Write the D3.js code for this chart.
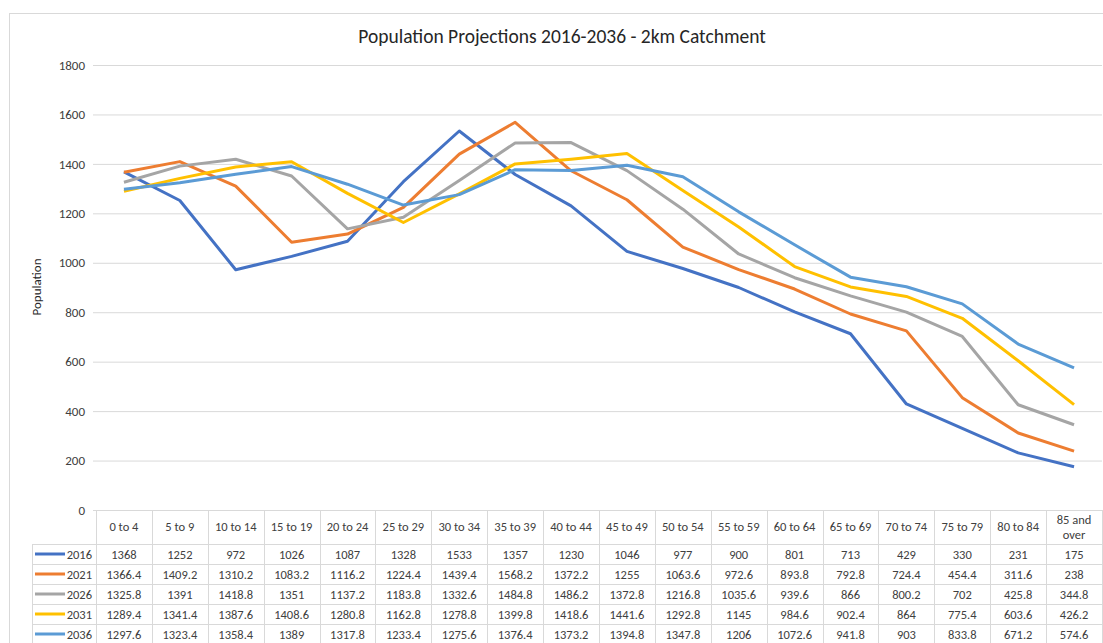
<!DOCTYPE html>
<html>
<head>
<meta charset="utf-8">
<script src="https://cdn.jsdelivr.net/npm/d3@7"></script>
<style>
  body { margin: 0; background: #fff; }
  svg { display: block; font-family: Carlito, Calibri, Lato, "Open Sans", sans-serif; }
</style>
</head>
<body>
<div id="chart"></div>
<script>
const ageGroups = ["0 to 4", "5 to 9", "10 to 14", "15 to 19", "20 to 24", "25 to 29", "30 to 34", "35 to 39",
	"40 to 44", "45 to 49", "50 to 54", "55 to 59", "60 to 64", "65 to 69", "70 to 74", "75 to 79", "80 to 84", "85 and over"];
const years = ["2016", "2021", "2026", "2031", "2036"];
const pop2016 = [1368, 1252, 972, 1026, 1087, 1328, 1533, 1357, 1230, 1046, 977, 900, 801, 713, 429, 330, 231, 175];
const pop2021 = [1366.4, 1409.2, 1310.2, 1083.2, 1116.2, 1224.4, 1439.4, 1568.2, 1372.2, 1255, 1063.6, 972.6, 893.8, 792.8, 724.4, 454.4, 311.6, 238];
const pop2026 = [1325.8, 1391, 1418.8, 1351, 1137.2, 1183.8, 1332.6, 1484.8, 1486.2, 1372.8, 1216.8, 1035.6, 939.6, 866, 800.2, 702, 425.8, 344.8];
const pop2031 = [1289.4, 1341.4, 1387.6, 1408.6, 1280.8, 1162.8, 1278.8, 1399.8, 1418.6, 1441.6, 1292.8, 1145, 984.6, 902.4, 864, 775.4, 603.6, 426.2];
const pop2036 = [1297.6, 1323.4, 1358.4, 1389, 1317.8, 1233.4, 1275.6, 1376.4, 1373.2, 1394.8, 1347.8, 1206, 1072.6, 941.8, 903, 833.8, 671.2, 574.6];
const yTicks = [0, 200, 400, 600, 800, 1000, 1200, 1400, 1600, 1800];
const colors = ["#4472C4", "#ED7D31", "#A5A5A5", "#FFC000", "#5B9BD5"];

const series = years.map((y, i) => ({ year: y, values: [pop2016, pop2021, pop2026, pop2031, pop2036][i], color: colors[i] }));

const width = 1103, height = 643;
const plot = { left: 96, right: 1102, top: 65, bottom: 510 };
const rowH = 20, headerH = 34;

const svg = d3.select("#chart").append("svg")
	.attr("width", width)
	.attr("height", height);

// chart frame
svg.append("rect")
	.attr("x", 9.5).attr("y", 13.5)
	.attr("width", 1110).attr("height", 700)
	.attr("fill", "#fff")
	.attr("stroke", "#d9d9d9");

// title
svg.append("text")
	.attr("x", 562).attr("y", 43)
	.attr("text-anchor", "middle")
	.attr("font-size", "19.5px")
	.attr("fill", "#262626")
	.text("Population Projections 2016-2036 - 2km Catchment");

const x = d3.scaleBand()
	.domain(ageGroups)
	.range([plot.left, plot.right]);

const y = d3.scaleLinear()
	.domain([0, 1800])
	.range([plot.bottom, plot.top]);

// y axis + gridlines
const yAxis = svg.append("g")
	.attr("transform", `translate(${plot.left}, 0)`)
	.call(d3.axisLeft(y).tickValues(yTicks).tickFormat(d3.format("d"))
		.tickSize(-(plot.right - plot.left)).tickPadding(11));
yAxis.select(".domain").remove();
yAxis.selectAll("line").attr("stroke", "#d9d9d9").attr("x1", -3);
yAxis.selectAll("text")
	.attr("fill", "#404040")
	.attr("font-size", "13px")
	.attr("font-family", "Carlito, Calibri, Lato, sans-serif");

// y axis title
svg.append("text")
	.attr("transform", "translate(41, 287) rotate(-90)")
	.attr("text-anchor", "middle")
	.attr("font-size", "13px")
	.attr("fill", "#262626")
	.text("Population");

// lines
const line = d3.line()
	.x((d, i) => x(ageGroups[i]) + x.bandwidth() / 2)
	.y(d => y(d));

svg.append("g")
	.selectAll("path")
	.data(series)
	.join("path")
	.attr("d", d => line(d.values))
	.attr("fill", "none")
	.attr("stroke", d => d.color)
	.attr("stroke-width", 3)
	.attr("stroke-linejoin", "round");

// data table
const table = svg.append("g");
const tableTop = plot.bottom;
const bodyTop = tableTop + headerH;
const legendLeft = 32;

// horizontal lines
table.append("line")
	.attr("x1", plot.left).attr("x2", plot.right + 10)
	.attr("y1", tableTop + 0.5).attr("y2", tableTop + 0.5)
	.attr("stroke", "#d9d9d9");
d3.range(years.length + 1).forEach(r => {
	table.append("line")
		.attr("x1", legendLeft).attr("x2", plot.right + 10)
		.attr("y1", bodyTop + r * rowH + 0.5).attr("y2", bodyTop + r * rowH + 0.5)
		.attr("stroke", "#d9d9d9");
});

// vertical lines
ageGroups.forEach(g => {
	table.append("line")
		.attr("x1", Math.round(x(g)) + 0.5).attr("x2", Math.round(x(g)) + 0.5)
		.attr("y1", tableTop).attr("y2", height)
		.attr("stroke", "#d9d9d9");
});
table.append("line")
	.attr("x1", plot.right + 0.5).attr("x2", plot.right + 0.5)
	.attr("y1", tableTop).attr("y2", height)
	.attr("stroke", "#d9d9d9");
table.append("line")
	.attr("x1", legendLeft + 0.5).attr("x2", legendLeft + 0.5)
	.attr("y1", bodyTop).attr("y2", height)
	.attr("stroke", "#d9d9d9");

// header labels
ageGroups.forEach(g => {
	const cx = x(g) + x.bandwidth() / 2;
	const t = table.append("text")
		.attr("x", cx)
		.attr("text-anchor", "middle")
		.attr("font-size", "12.5px")
		.attr("fill", "#404040");
	if (g === "85 and over") {
		t.attr("y", tableTop + 14).text("85 and");
		table.append("text")
			.attr("x", cx).attr("y", tableTop + 29)
			.attr("text-anchor", "middle")
			.attr("font-size", "12.5px")
			.attr("fill", "#404040")
			.text("over");
	} else {
		t.attr("y", tableTop + 21).text(g);
	}
});

// rows
series.forEach((s, r) => {
	const cy = bodyTop + r * rowH + rowH / 2;
	table.append("line")
		.attr("x1", 35).attr("x2", 65)
		.attr("y1", cy).attr("y2", cy)
		.attr("stroke", s.color)
		.attr("stroke-width", 3);
	table.append("text")
		.attr("x", 92).attr("y", cy + 4.5)
		.attr("text-anchor", "end")
		.attr("font-size", "12.5px")
		.attr("fill", "#404040")
		.text(s.year);
	table.selectAll(null)
		.data(s.values)
		.join("text")
		.attr("x", (d, i) => x(ageGroups[i]) + x.bandwidth() / 2)
		.attr("y", cy + 4.5)
		.attr("text-anchor", "middle")
		.attr("font-size", "12.5px")
		.attr("fill", "#404040")
		.text(d => d);
});
</script>
</body>
</html>
